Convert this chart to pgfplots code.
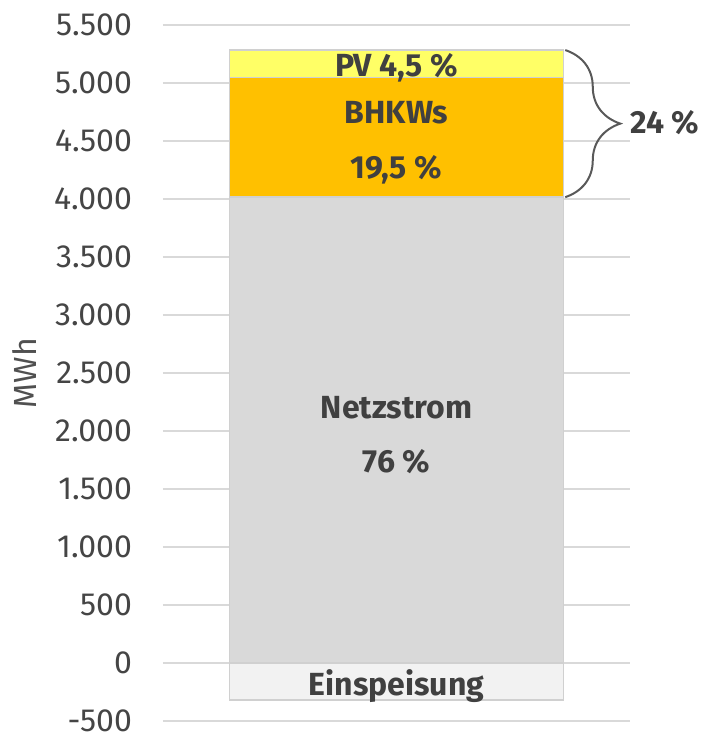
\documentclass[border=0pt]{standalone}
\usepackage{fontspec}
\setmainfont{Fira Sans}
\usepackage{pgfplots}
\pgfplotsset{compat=1.18}
\usetikzlibrary{decorations.pathreplacing}
\definecolor{gridc}{HTML}{D9D9D9}
\definecolor{tickc}{HTML}{454545}
\definecolor{ylabc}{HTML}{505050}
\definecolor{labc}{HTML}{404040}
\definecolor{einc}{HTML}{F2F2F2}
\definecolor{netzc}{HTML}{D9D9D9}
\definecolor{bhkwc}{HTML}{FFC000}
\definecolor{pvc}{HTML}{FFFF66}
\definecolor{borderc}{HTML}{D0D0D0}
\definecolor{bracec}{HTML}{595959}
\pgfplotsset{common/.style={scale only axis, width=233.5pt, height=348pt,
  xmin=-0.7, xmax=0.7, ymin=-500, ymax=5500, clip=false}}
\newcommand{\lab}{\fontsize{16}{19}\selectfont\bfseries}
\begin{document}
\begin{tikzpicture}
\useasboundingbox (-81.5pt,-7pt) rectangle (272pt,360.5pt);
\begin{axis}[common, ybar stacked, bar width=1,
  ytick distance=500, ymajorgrids, major grid style={gridc, line width=1pt},
  axis line style={draw=none}, xtick=\empty, major tick length=0pt,
  /pgf/number format/.cd, 1000 sep={.}, assume math mode=true, /pgfplots/.cd,
  yticklabel style={font=\fontsize{16}{19}\selectfont, text=tickc, xshift=-12pt, inner ysep=0pt},
  ylabel={MWh},
  ylabel style={at={(axis description cs:0,0.5)}, anchor=center, yshift=69pt,
    font=\fontsize{16}{19}\selectfont, text=ylabc}]
\addplot[fill=netzc, draw=borderc, line width=0.75pt] coordinates {(0,4016)};
\addplot[fill=bhkwc, draw=borderc, line width=0.75pt] coordinates {(0,1030)};
\addplot[fill=pvc, draw=borderc, line width=0.75pt] coordinates {(0,238)};
\end{axis}
\begin{axis}[common, hide axis]
\addplot[ybar, bar width=1, fill=einc, draw=borderc, line width=0.75pt] coordinates {(0,-320)};
\node[anchor=base, text=labc, font=\lab] at (axis cs:0,-276) {Einspeisung};
\node[anchor=base, text=labc, font=\lab] at (axis cs:0,5052) {PV 4,5 \%};
\node[anchor=base, text=labc, font=\lab] at (axis cs:0,4655) {BHKWs};
\node[anchor=base, text=labc, font=\lab] at (axis cs:0,4181) {19,5 \%};
\node[anchor=base, text=labc, font=\lab] at (axis cs:0,2112) {Netzstrom};
\node[anchor=base, text=labc, font=\lab] at (axis cs:0,1638) {76 \%};
\node[anchor=base, text=labc, font=\lab] at (axis cs:0.805,4569) {24 \%};
\draw[decorate, decoration={brace, amplitude=27.5pt}, line width=1pt, bracec]
  (axis cs:0.506,5284) -- (axis cs:0.506,4016);
\end{axis}
\end{tikzpicture}
\end{document}
